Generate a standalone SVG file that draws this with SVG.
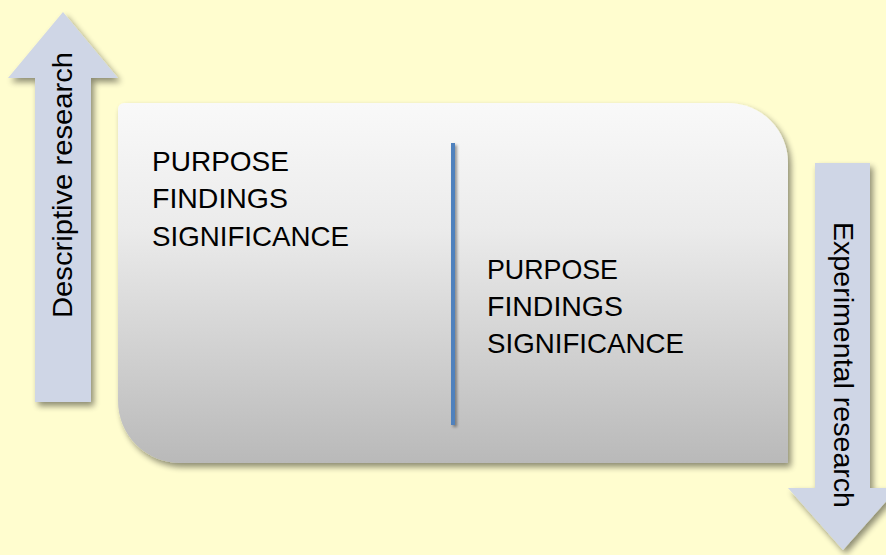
<svg xmlns="http://www.w3.org/2000/svg" width="886" height="555" viewBox="0 0 886 555">
<defs>
<linearGradient id="boxg" x1="0" y1="0" x2="0" y2="1">
<stop offset="0" stop-color="#F9F9F9"/>
<stop offset="0.35" stop-color="#EBEBEB"/>
<stop offset="1" stop-color="#B9B9B9"/>
</linearGradient>
<filter id="sh" x="-10%" y="-10%" width="125%" height="125%">
<feGaussianBlur in="SourceAlpha" stdDeviation="3"/>
<feOffset dx="3" dy="4" result="b"/>
<feComponentTransfer><feFuncA type="linear" slope="0.45"/></feComponentTransfer>
<feMerge><feMergeNode/><feMergeNode in="SourceGraphic"/></feMerge>
</filter>
<filter id="lsh" filterUnits="userSpaceOnUse" x="430" y="130" width="50" height="310">
<feGaussianBlur in="SourceAlpha" stdDeviation="1.5"/>
<feOffset dx="2" dy="2" result="b"/>
<feComponentTransfer><feFuncA type="linear" slope="0.4"/></feComponentTransfer>
<feMerge><feMergeNode/><feMergeNode in="SourceGraphic"/></feMerge>
</filter>
</defs>
<style>
.arrow{fill:#CFD6E6;filter:url(#sh)}
.t{font-family:"Liberation Sans",Arial,sans-serif;font-size:28px;fill:#000}
.lbl{font-family:"Liberation Sans",Arial,sans-serif;font-size:28px;fill:#000}
</style>
<rect width="886" height="555" fill="#FFFDCF"/>
<g id="up-arrow">
<path class="arrow" d="M63,12 L118,78 L91,78 L91,402 L35,402 L35,78 L8,78 Z"/>
<text class="lbl" transform="translate(72,318) rotate(-90)" textLength="266" lengthAdjust="spacingAndGlyphs">Descriptive research</text>
</g>
<g id="down-arrow">
<path class="arrow" d="M815,163 L870,163 L870,488 L898,488 L843,550 L788,488 L815,488 Z"/>
<text class="lbl" transform="translate(834,222) rotate(90)" textLength="286" lengthAdjust="spacingAndGlyphs">Experimental research</text>
</g>
<g id="main-box">
<path d="M124,103 L728,103 A60,60 0 0 1 788,163 L788,463 L180,463 A62,62 0 0 1 118,401 L118,109 A6,6 0 0 1 124,103 Z" fill="url(#boxg)" filter="url(#sh)"/>
<text class="t" x="152" y="171" textLength="137" lengthAdjust="spacingAndGlyphs">PURPOSE</text>
<text class="t" x="152" y="208" textLength="136" lengthAdjust="spacingAndGlyphs">FINDINGS</text>
<text class="t" x="152" y="246" textLength="197" lengthAdjust="spacingAndGlyphs">SIGNIFICANCE</text>
<text class="t" x="487" y="279" textLength="131" lengthAdjust="spacingAndGlyphs">PURPOSE</text>
<text class="t" x="487" y="316" textLength="136" lengthAdjust="spacingAndGlyphs">FINDINGS</text>
<text class="t" x="487" y="353" textLength="197" lengthAdjust="spacingAndGlyphs">SIGNIFICANCE</text>
</g>
<g id="connectors">
<line x1="453" y1="143" x2="453" y2="425" stroke="#4F81BD" stroke-width="4" filter="url(#lsh)"/>
</g>
</svg>
